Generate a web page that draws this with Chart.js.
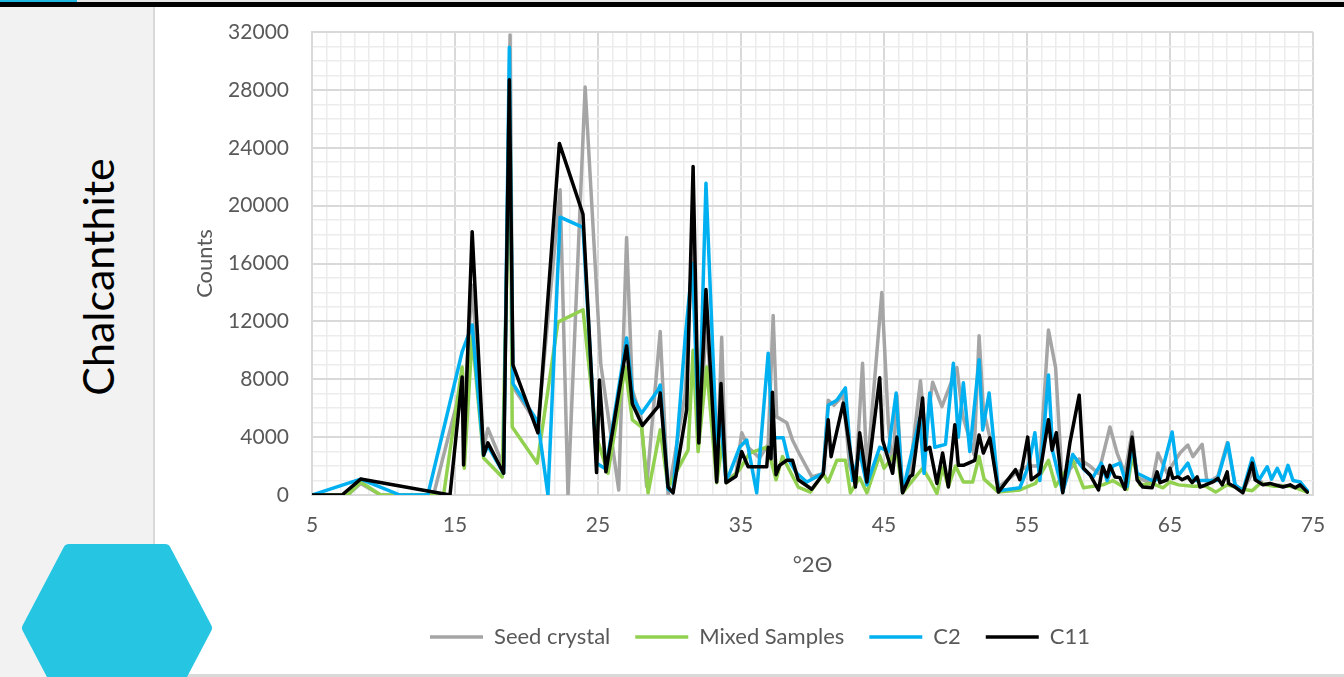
<!DOCTYPE html>
<html><head><meta charset="utf-8">
<script src="https://cdn.jsdelivr.net/npm/chart.js@4.4.1/dist/chart.umd.min.js"></script>
<style>
html,body{margin:0;padding:0;background:#fff;width:1344px;height:677px;overflow:hidden;position:relative;font-family:Lato,sans-serif}
#topc{position:absolute;left:0;top:0;width:77px;height:2px;background:#1fb7e0}
#topl{position:absolute;left:77px;top:0;width:1267px;height:2px;background:#e6e6e6}
#topb{position:absolute;left:0;top:2px;width:1344px;height:5px;background:#000}
#panel{position:absolute;left:0;top:7px;width:153px;height:670px;background:#f2f2f2;border-right:2px solid #d9d9d9}
#bottom{position:absolute;left:155px;top:674px;width:1189px;height:3px;background:#d9d9d9}
#ttl{position:absolute;left:97px;top:277px;transform:translate(-50%,-50%) rotate(-90deg);font-size:43px;color:#000;white-space:nowrap;font-family:Lato,sans-serif}
#wrap{position:absolute;left:155px;top:8px;width:1189px;height:666px}
#hex{position:absolute;left:0;top:0;pointer-events:none}
</style>
</head><body>
<div id="topc"></div><div id="topl"></div><div id="topb"></div>
<div id="panel"></div><div id="bottom"></div>
<div id="ttl">Chalcanthite</div>
<div id="wrap"><canvas id="c" width="1189" height="666"></canvas></div>
<svg id="hex" width="1344" height="677"><polygon points="28,628 69,550 165,550 206,628 165,706 69,706" fill="#26c6e3" stroke="#26c6e3" stroke-width="12" stroke-linejoin="round"/></svg>
<script>
const seriesNames = ['Seed crystal', 'Mixed Samples', 'C2', 'C11'];
const seriesColors = ['#a5a5a5', '#92d050', '#00b0f0', '#000000'];
const xTickLabels = [5, 15, 25, 35, 45, 55, 65, 75];
const yTickLabels = [0, 4000, 8000, 12000, 16000, 20000, 24000, 28000, 32000];

const seedX = [5,7.5,8.4,9.8,13.5,15.3,15.6,16.2,17.0,17.3,18.4,18.85,19.05,20.8,22.35,22.9,24.1,25.2,26.45,27.0,27.4,28.0,28.4,29.35,29.9,31.1,31.65,32.05,32.6,33.3,33.65,33.95,34.65,35.05,35.5,36.3,36.9,37.25,37.5,38.2,38.6,39.05,39.95,40.75,41.1,41.5,42.15,42.6,43.0,43.5,43.8,44.85,45.3,45.6,45.9,46.3,46.8,47.55,47.9,48.4,49.05,50.1,50.5,51.3,51.65,51.95,52.4,53.0,54.2,55.05,55.9,56.5,57.0,57.5,58.0,58.65,59.4,60.0,60.8,61.3,61.85,62.35,62.7,63.75,64.15,64.8,65.7,66.25,66.6,67.25,67.6,68.35,69.0,69.55,70.1,70.75,71.5,72.35,73.4,74.6];
const seedY = [0,0,800,0,0,7000,5500,14500,3200,4600,1950,31800,7500,4800,21100,0,28200,9000,350,17800,7250,5400,600,11300,0,7000,18000,4000,12000,1000,10900,1000,1500,4300,3300,2550,3500,12400,5400,5000,3800,2900,1250,1500,6550,6200,6900,2000,800,9100,1500,14000,5000,1500,6900,200,1500,7900,4000,7800,6100,8800,5500,2800,11000,5900,4000,550,1500,2000,2000,11400,8800,300,1800,2500,2000,1500,4700,2900,1500,4350,1200,800,2900,1500,2900,3450,2650,3500,800,1300,3600,700,300,1500,800,700,600,300];

const mixedX = [5,7.5,8.4,9.8,14.2,15.5,15.65,16.2,17.0,18.3,18.85,19.0,20.75,22.2,23.95,24.9,25.7,26.9,27.4,28.05,28.5,29.35,29.9,31.3,31.65,32.0,32.6,33.3,33.75,34.0,34.9,35.6,36.8,37.1,37.45,37.9,38.5,39.0,39.85,40.75,41.1,41.7,42.3,42.65,43.3,43.8,44.7,45.0,45.9,46.3,47.7,48.2,48.7,49.1,49.5,50.0,50.55,51.2,51.65,52.0,53.0,54.5,55.6,56.5,57.0,58.2,58.95,60.3,61.0,62.0,62.35,62.9,63.75,64.5,65.0,65.6,66.6,67.5,68.2,69.0,70.1,70.75,71.3,72.3,73.5,74.6];
const mixedY = [0,0,900,0,0,8850,1850,11000,2550,1250,26000,4700,2200,11950,12800,4000,1500,8850,5200,4700,150,4500,550,3100,10000,3000,8850,850,4000,850,1750,2900,3300,2400,1050,2650,1500,550,200,1450,900,2400,2400,150,1200,150,2750,1850,3000,150,1850,1050,100,1900,600,2000,900,900,2650,1100,200,350,800,2400,600,2400,500,700,1000,400,2650,700,800,500,900,700,600,600,200,700,400,300,800,600,600,200];

const c2X = [5,8.4,11.15,13.1,15.5,16.2,17.0,17.3,18.4,18.8,19.05,20.8,21.5,22.35,23.95,24.9,25.55,27.0,27.45,28.05,29.2,29.35,29.9,30.25,31.1,31.6,32.05,32.55,33.3,33.6,33.95,34.2,34.9,35.4,36.1,36.9,37.2,37.95,38.3,38.9,39.6,40.75,41.1,41.7,42.3,42.8,43.3,43.8,44.7,45.3,45.85,46.3,47.5,47.8,48.2,48.55,49.3,49.85,50.2,50.55,51.0,51.65,51.9,52.35,53.0,54.5,55.1,55.55,55.9,56.5,56.8,57.5,58.2,58.95,59.6,60.2,60.6,61.0,61.5,62.0,62.35,62.7,63.75,64.3,65.15,65.55,66.25,66.7,67.5,68.3,69.05,69.55,70.1,70.75,71.2,71.8,72.1,72.5,72.9,73.25,73.6,74.1,74.6];
const c2Y = [0,1100,0,0,9900,11750,2750,3400,1500,30950,7700,5050,0,19200,18500,2200,1800,10850,6700,5650,7250,7600,400,200,10900,16000,4000,21550,3300,5000,1000,1500,3300,3800,150,9800,3950,3950,2500,1500,900,1500,6200,6550,7400,1000,3000,700,3300,3000,7050,200,5300,1500,7050,3300,3500,9100,4000,7750,3000,9350,4500,7050,300,500,2000,4300,1000,8300,3000,200,2800,1800,1200,2200,1000,2000,2200,600,3500,1500,1000,1100,4350,1300,2200,1000,1000,1000,3600,700,300,2550,1000,1950,1100,1850,1000,2050,1000,900,300];

const c11X = [5,7.1,8.4,14.65,15.5,15.6,16.2,17.0,17.3,18.4,18.8,19.05,20.8,22.3,23.95,24.9,25.1,25.55,27.0,27.4,28.1,29.2,29.35,29.9,30.25,31.2,31.65,32.05,32.55,33.3,33.6,33.95,34.65,35.05,35.5,36.8,36.9,37.1,37.2,37.45,37.7,38.2,38.6,39.0,39.95,40.75,41.1,41.3,42.15,43.0,43.3,43.8,44.7,44.9,45.6,45.9,46.3,46.8,47.0,47.7,47.9,48.2,48.7,49.1,49.5,49.95,50.2,50.55,51.35,51.65,51.95,52.4,53.0,54.2,54.5,55.05,55.3,55.9,56.5,56.75,57.05,57.5,58.0,58.65,58.95,59.4,60.0,60.3,60.6,60.8,61.15,61.5,61.85,62.35,62.7,63.1,63.75,64.1,64.3,64.8,65.0,65.2,65.55,65.85,66.25,66.55,66.9,67.1,67.5,68.0,68.35,68.65,69.0,69.1,69.55,70.1,70.75,70.95,71.5,72.0,72.35,72.9,73.4,73.75,74.1,74.6];
const c11Y = [0,0,1100,0,8150,2070,18200,2750,3600,1500,28700,9000,4300,24300,19400,1550,7950,1600,10300,6300,4800,6100,7050,550,150,5900,22700,3600,14200,900,7700,850,1300,3000,1950,1950,3300,2500,7100,1400,2050,2400,2400,1050,400,1450,5200,2650,6350,550,4300,900,8100,3800,1500,4000,150,1250,1400,6700,3100,3300,800,2900,550,4850,2050,2050,2400,4150,2900,3950,200,1750,1050,4000,1050,1500,5200,3100,4300,150,3600,6900,1850,1400,350,1950,1250,2050,1250,1200,400,4000,1050,550,500,1600,850,1050,1850,1150,1250,1050,1250,850,1250,550,700,900,1150,700,1600,800,550,150,2200,1050,700,800,700,550,700,500,700,200];

const zip = (xs, ys) => xs.map((x, i) => ({x: x, y: ys[i]}));
const allX = [seedX, mixedX, c2X, c11X];
const allY = [seedY, mixedY, c2Y, c11Y];

const datasets = seriesNames.map((name, i) => ({
  label: name,
  data: zip(allX[i], allY[i]),
  borderColor: seriesColors[i],
  backgroundColor: seriesColors[i],
  pointBorderColor: seriesColors[i],
  pointBorderWidth: 3.5,
  borderWidth: 3.5,
  order: 4 - i
}));

const tickFont = {family: 'Lato', size: 21};
const isMajorX = v => Math.abs(((Math.round(v) - 5) % 10)) === 0;
const isMajorY = v => Math.round(v) % 4000 === 0;

new Chart(document.getElementById('c'), {
  type: 'line',
  data: {datasets: datasets},
  options: {
    responsive: false,
    animation: false,
    devicePixelRatio: 1,
    events: [],
    elements: {
      line: {tension: 0, borderJoinStyle: 'round', borderCapStyle: 'round'},
      point: {radius: 0, hoverRadius: 0}
    },
    layout: {padding: {left: 52, right: 31, top: 24, bottom: 16}},
    scales: {
      x: {
        type: 'linear', min: 5, max: 75,
        afterFit: s => { s.height = 106; },
        ticks: {
          stepSize: 1, autoSkip: false, maxRotation: 0, minRotation: 0, padding: 18,
          color: '#595959', font: tickFont,
          callback: v => xTickLabels.includes(Math.round(v)) && Math.abs(v - Math.round(v)) < 1e-6 ? String(Math.round(v)) : ''
        },
        grid: {
          drawTicks: false,
          color: c => isMajorX(c.tick.value) ? '#d9d9d9' : '#ececec',
          lineWidth: c => isMajorX(c.tick.value) ? 2 : 1.5
        },
        border: {color: '#d9d9d9', width: 2},
        title: {display: true, text: '°2Θ', color: '#595959', font: {family: 'Lato', size: 22}, padding: {top: 0, bottom: 23}}
      },
      y: {
        min: 0, max: 32000,
        afterFit: s => { s.width = 105; s.paddingTop = 0; s.paddingBottom = 0; },
        ticks: {
          stepSize: 1000, autoSkip: false, padding: 23,
          color: '#595959', font: tickFont,
          callback: v => yTickLabels.includes(Math.round(v)) ? String(Math.round(v)) : ''
        },
        grid: {
          drawTicks: false,
          color: c => isMajorY(c.tick.value) ? '#d9d9d9' : '#ececec',
          lineWidth: c => isMajorY(c.tick.value) ? 2 : 1.5
        },
        border: {color: '#d9d9d9', width: 2},
        title: {display: true, text: 'Counts', color: '#595959', font: {family: 'Lato', size: 22}, padding: {top: -15, bottom: 0}}
      }
    },
    plugins: {
      legend: {
        position: 'bottom',
        labels: {
          usePointStyle: true, pointStyle: 'line', pointStyleWidth: 53, padding: 25,
          color: '#595959', font: {family: 'Lato', size: 22},
          sort: (a, b) => a.datasetIndex - b.datasetIndex
        }
      },
      tooltip: {enabled: false}
    }
  }
});
</script>
</body></html>
